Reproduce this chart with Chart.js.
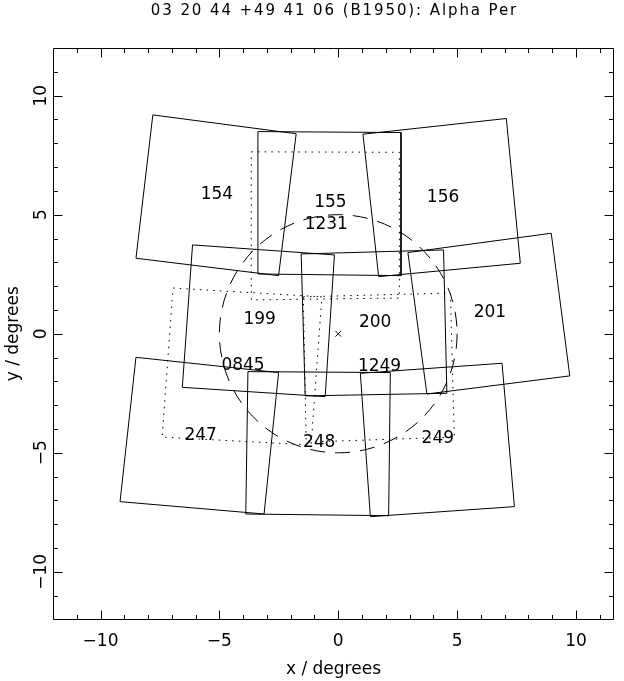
<!DOCTYPE html>
<html><head><meta charset="utf-8">
<script src="https://cdn.jsdelivr.net/npm/chart.js@4.4.1/dist/chart.umd.min.js"></script>
<style>html,body{margin:0;padding:0;background:#fff}canvas{display:block}</style>
</head><body>
<canvas id="c" width="624" height="681"></canvas>
<script>
const titleText = '03 20 44 +49 41 06 (B1950): Alpha Per';
const xTitle = 'x / degrees';
const yTitle = 'y / degrees';
const xRange = [-12, 11.6];
const yRange = [-12, 12];
const xTicks = [-10, -5, 0, 5, 10];
const yTicks = [-10, -5, 0, 5, 10];

// solid survey fields (corner coordinates in degrees)
const solidNames = ['154', '155', '156', '199', '200', '201', '247', '248', '249'];
const solidX = [
  [-7.80, -1.77, -2.51, -8.51],
  [-3.38, 2.64, 2.64, -3.38],
  [1.04, 7.07, 7.66, 1.70],
  [-6.13, -0.16, -0.55, -6.56],
  [-1.56, 4.43, 4.57, -1.39],
  [2.93, 8.96, 9.74, 3.73],
  [-8.51, -2.51, -3.12, -9.18],
  [-3.80, 2.19, 2.12, -3.89],
  [0.93, 6.89, 7.41, 1.35]
];
const solidY = [
  [9.19, 8.40, 2.44, 3.17],
  [8.49, 8.45, 2.44, 2.51],
  [8.38, 9.04, 2.96, 2.40],
  [3.73, 3.31, -2.64, -2.25],
  [3.35, 3.52, -2.50, -2.61],
  [3.41, 4.22, -1.77, -2.53],
  [-0.99, -1.63, -7.57, -7.05],
  [-1.59, -1.63, -7.64, -7.57],
  [-1.66, -1.24, -7.26, -7.68]
];

// dotted fields
const dottedNames = ['1231', '0845', '1249'];
const dottedX = [
  [-3.66, 2.57, 2.57, -3.66],
  [-6.95, -0.69, -1.14, -7.41],
  [-1.47, 4.72, 4.88, -1.35]
];
const dottedY = [
  [7.64, 7.62, 1.50, 1.42],
  [1.92, 1.55, -4.67, -4.34],
  [1.55, 1.71, -4.34, -4.55]
];

const centreMark = [0, 0];
const circleCentre = [0, 0];
const circleRadius = [5];

const FONT = '"DejaVu Sans", "Liberation Sans", sans-serif';

function closed(xs, ys) {
  const pts = xs.map((x, i) => ({x: x, y: ys[i]}));
  pts.push({x: xs[0], y: ys[0]});
  return pts;
}
function fmt(v) { return v < 0 ? '\u2212' + Math.abs(v) : String(v); }

const datasets = [];
solidNames.forEach((n, i) => datasets.push({
  label: n, data: closed(solidX[i], solidY[i]), showLine: true,
  borderColor: '#000', borderWidth: 1, pointRadius: 0, tension: 0, fill: false
}));
dottedNames.forEach((n, i) => datasets.push({
  label: n, data: closed(dottedX[i], dottedY[i]), showLine: true,
  borderColor: '#000', borderWidth: 1, borderDash: [1.5, 5.2], pointRadius: 0, tension: 0, fill: false
}));
datasets.push({
  label: 'centre', data: [{x: centreMark[0], y: centreMark[1]}], showLine: false,
  pointStyle: 'crossRot', pointRadius: 4, borderColor: '#000', borderWidth: 1, backgroundColor: '#000'
});

function centroid(xs, ys) {
  return [xs.reduce((a, b) => a + b, 0) / xs.length, ys.reduce((a, b) => a + b, 0) / ys.length];
}

const overlay = {
  id: 'overlay',
  afterDatasetsDraw(chart) {
    const {ctx, chartArea: a, scales: {x, y}} = chart;
    ctx.save();
    ctx.strokeStyle = '#000';
    ctx.fillStyle = '#000';
    ctx.lineWidth = 1;

    // dashed circle
    const cx = x.getPixelForValue(circleCentre[0]);
    const cy = y.getPixelForValue(circleCentre[1]);
    const rx = Math.abs(x.getPixelForValue(circleCentre[0] + circleRadius[0]) - cx);
    const ry = Math.abs(y.getPixelForValue(circleCentre[1] + circleRadius[0]) - cy);
    ctx.beginPath();
    ctx.setLineDash([15, 10]);
    ctx.ellipse(cx, cy, rx, ry, 0, 0, Math.PI * 2);
    ctx.stroke();
    ctx.setLineDash([]);

    // field labels
    ctx.font = '17px ' + FONT;
    ctx.textAlign = 'center';
    ctx.textBaseline = 'middle';
    const drawLabels = (names, xs, ys) => names.forEach((n, i) => {
      const c = centroid(xs[i], ys[i]);
      ctx.fillText(n, x.getPixelForValue(c[0]) + 1, y.getPixelForValue(c[1]) - 1);
    });
    drawLabels(solidNames, solidX, solidY);
    drawLabels(dottedNames, dottedX, dottedY);

    // frame
    const L = Math.round(a.left) + 0.5, R = Math.round(a.right) - 0.5;
    const T = Math.round(a.top) + 0.5, B = Math.round(a.bottom) - 0.5;
    ctx.beginPath();
    ctx.rect(L, T, R - L, B - T);
    ctx.stroke();

    // inward ticks on all four sides
    ctx.beginPath();
    for (let v = Math.ceil(xRange[0]) + 1; v < xRange[1]; v++) {
      const len = (v % 5 === 0) ? 9 : 4.5;
      const px = Math.round(x.getPixelForValue(v)) + 0.5;
      ctx.moveTo(px, B); ctx.lineTo(px, B - len);
      ctx.moveTo(px, T); ctx.lineTo(px, T + len);
    }
    for (let v = Math.ceil(yRange[0]) + 1; v < yRange[1]; v++) {
      const len = (v % 5 === 0) ? 9 : 4.5;
      const py = Math.round(y.getPixelForValue(v)) + 0.5;
      ctx.moveTo(L, py); ctx.lineTo(L + len, py);
      ctx.moveTo(R, py); ctx.lineTo(R - len, py);
    }
    ctx.stroke();

    // y tick labels (rotated, reading upward)
    ctx.font = '17px ' + FONT;
    ctx.textAlign = 'center';
    ctx.textBaseline = 'alphabetic';
    yTicks.forEach(v => {
      ctx.save();
      ctx.translate(46, y.getPixelForValue(v));
      ctx.rotate(-Math.PI / 2);
      ctx.fillText(fmt(v), 0, 0);
      ctx.restore();
    });

    // title
    ctx.font = '15px ' + FONT;
    ctx.textAlign = 'center';
    ctx.textBaseline = 'alphabetic';
    if ('letterSpacing' in ctx) ctx.letterSpacing = '1.9px';
    ctx.fillText(titleText, (a.left + a.right) / 2 + 1, 15);
    if ('letterSpacing' in ctx) ctx.letterSpacing = '0px';
    ctx.restore();
  }
};

new Chart(document.getElementById('c'), {
  type: 'scatter',
  data: {datasets: datasets},
  plugins: [overlay],
  options: {
    responsive: false,
    animation: false,
    devicePixelRatio: 1,
    layout: {padding: {top: 48, right: 10, left: 0, bottom: 0}},
    plugins: {legend: {display: false}, tooltip: {enabled: false}, title: {display: false}},
    scales: {
      x: {
        type: 'linear', position: 'bottom', min: xRange[0], max: xRange[1],
        afterBuildTicks: s => { s.ticks = xTicks.map(v => ({value: v})); },
        afterFit: s => { s.height = 61.5; },
        grid: {display: false, drawTicks: false},
        border: {display: false},
        ticks: {padding: 12, color: '#000', font: {family: FONT, size: 17}, callback: v => fmt(v), maxRotation: 0, autoSkip: false},
        title: {display: true, text: xTitle, color: '#000', font: {family: FONT, size: 17}, padding: {top: 0, bottom: 1}}
      },
      y: {
        type: 'linear', position: 'left', min: yRange[0], max: yRange[1],
        afterBuildTicks: s => { s.ticks = yTicks.map(v => ({value: v})); },
        afterFit: s => { s.width = 53; },
        grid: {display: false, drawTicks: false},
        border: {display: false},
        ticks: {display: false},
        title: {display: true, text: yTitle, color: '#000', font: {family: FONT, size: 17}, padding: {top: 3, bottom: 0}}
      }
    }
  }
});
</script>
</body></html>
